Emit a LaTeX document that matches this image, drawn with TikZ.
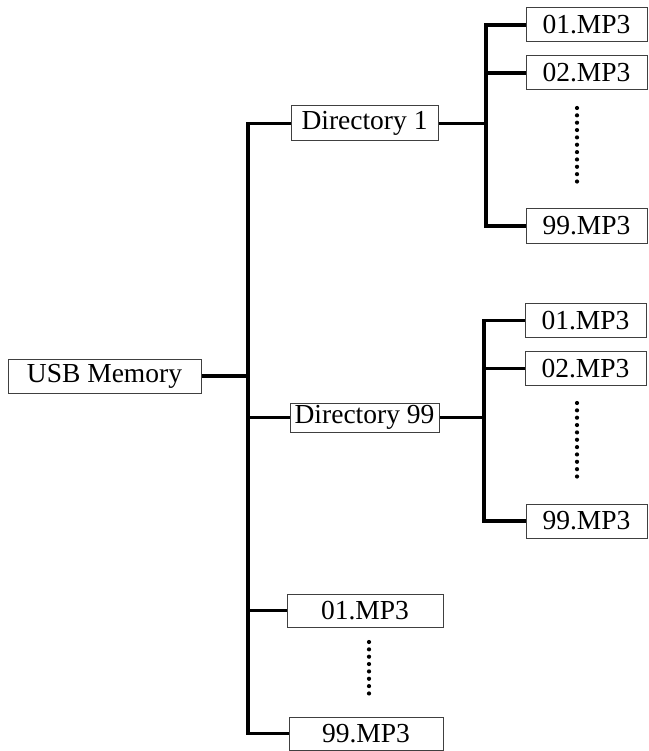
\documentclass[tikz,border=0pt]{standalone}
\usepackage{fontspec}
\setmainfont{Liberation Serif}
\usetikzlibrary{positioning}

\begin{document}
\begin{tikzpicture}[
x=1pt,y=-1pt,
file/.style={
  draw=black!75,
  line width=1pt,
  rectangle,
  inner sep=0pt,
  minimum width=121pt,
  minimum height=34pt,
  font=\fontsize{27.5}{33}\selectfont
  },
link/.style={
  line width=3.6pt
  },
vdots/.style={
  line width=4.2pt,
  line cap=round,
  dash pattern=on 0pt off 7.35pt
  },
>=latex
]
\useasboundingbox (0,0) rectangle (648,751);
\node[file,minimum width=193pt] (usb) at (104.5,376) {USB Memory};
\node[file,minimum width=147pt,minimum height=35pt] (dir1) at (364.5,123.5) {Directory 1};
\node[file,minimum width=149pt,minimum height=29pt] (dir99) at (364.5,417.5) {Directory 99};

\node[file] (a01) at (586.5,25) {01.MP3};
\node[file,below=13pt of a01] (a02) {02.MP3};
\node[file] (a99) at (586.5,226) {99.MP3};

\node[file] (b01) at (585.5,320.5) {01.MP3};
\node[file,below=13pt of b01] (b02) {02.MP3};
\node[file] (b99) at (586.5,521) {99.MP3};

\node[file,minimum width=156pt,minimum height=33pt] (c01) at (365,610.5) {01.MP3};
\node[file,minimum width=154pt,minimum height=33pt] (c99) at (366,733.5) {99.MP3};

\coordinate (t) at (248,0);
\coordinate (s1) at (486,0);
\coordinate (s99) at (484,0);

\draw[link] (dir1.west) -| (t |- c99.west) -- (c99.west);
\draw[link] (usb.east) -- (t |- usb.east);
\draw[link] (t |- dir99.west) -- (dir99.west);
\draw[link] (t |- c01.west) -- (c01.west);

\draw[link] (a01.west) -| (s1 |- a99.west) -- (a99.west);
\draw[link] (dir1.east) -- (s1 |- dir1.east);
\draw[link] (s1 |- a02.west) -- (a02.west);

\draw[link] (b01.west) -| (s99 |- b99.west) -- (b99.west);
\draw[link] (dir99.east) -- (s99 |- dir99.east);
\draw[link] (s99 |- b02.west) -- (b02.west);

\draw[vdots] (577,108) -- (577,182);
\draw[vdots] (577,403) -- (577,477);
\draw[vdots] (369,642) -- (369,700);

\end{tikzpicture}
\end{document}
